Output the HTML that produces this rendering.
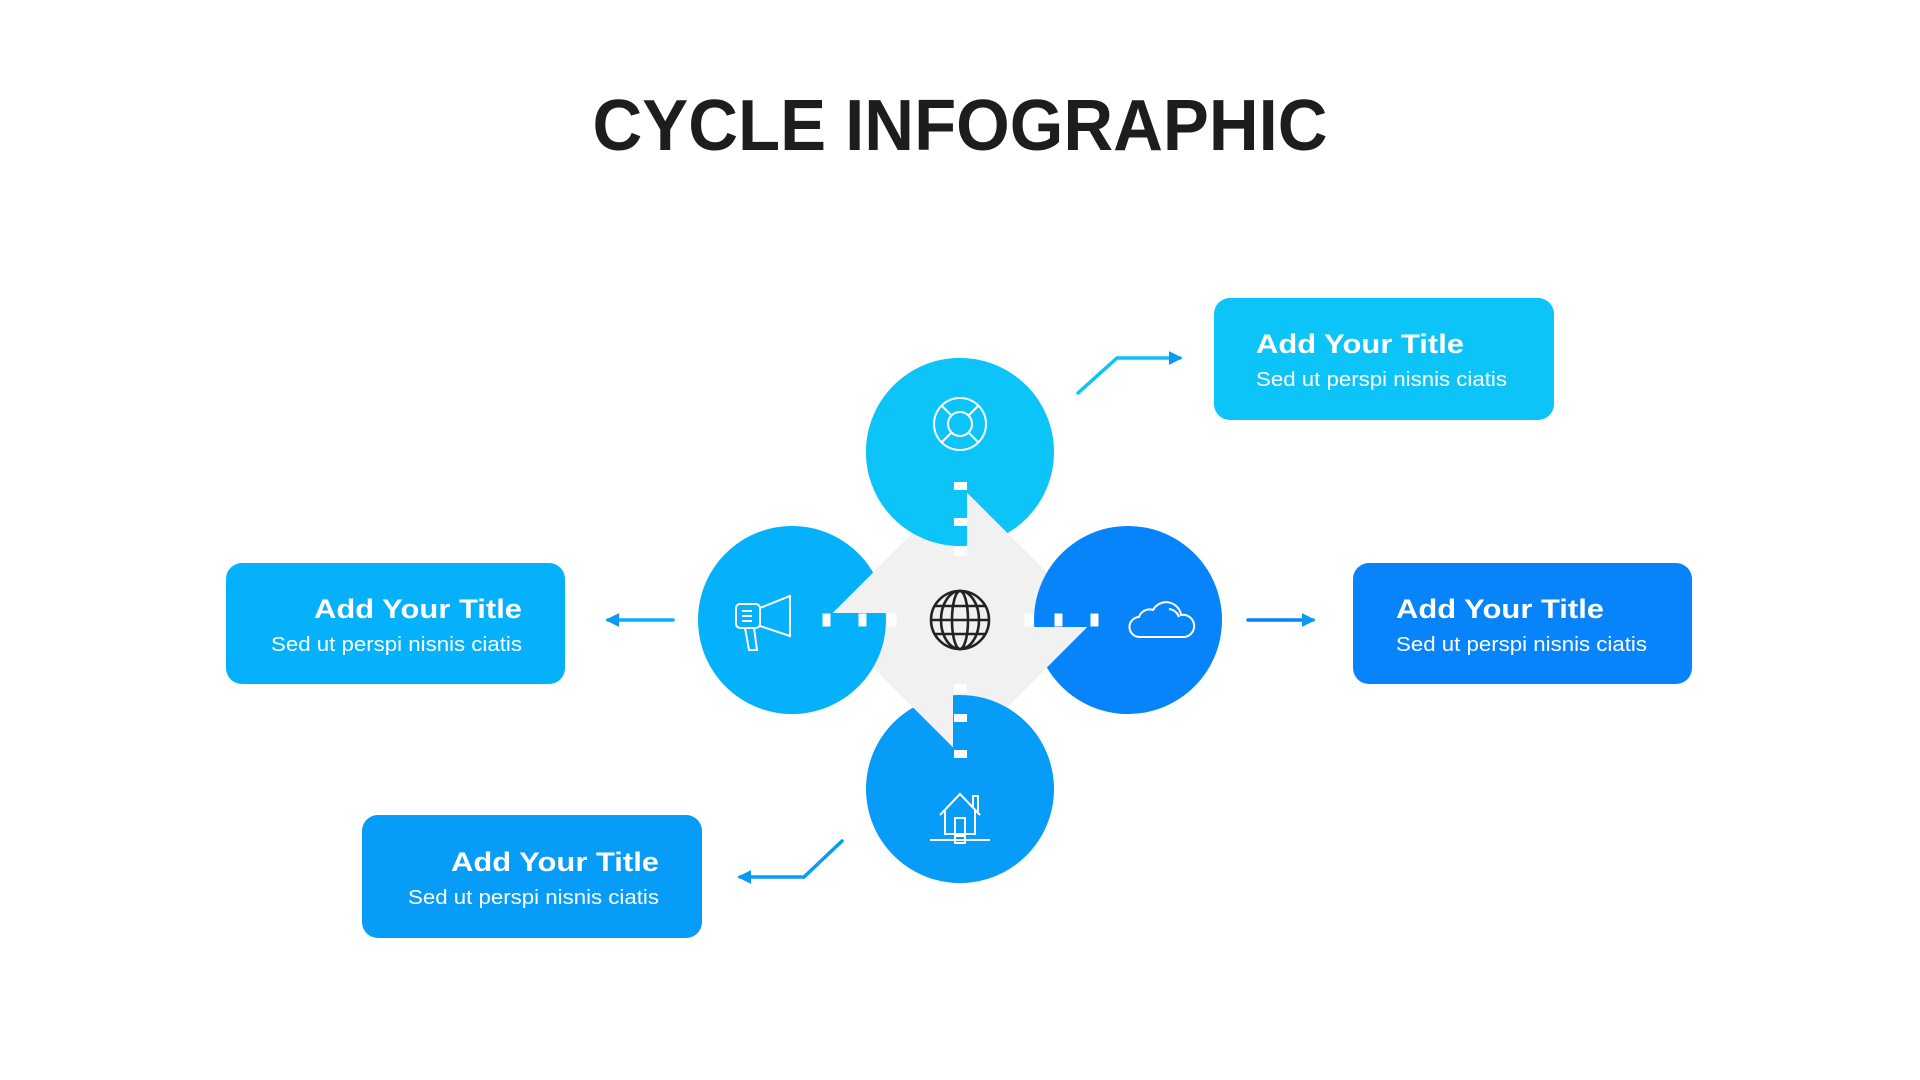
<!DOCTYPE html>
<html><head><meta charset="utf-8"><style>
html,body{margin:0;padding:0;background:#fff;}
svg{display:block;}
text{font-family:"Liberation Sans",Arial,sans-serif;}
</style></head><body>
<svg width="1920" height="1080" viewBox="0 0 1920 1080" xmlns="http://www.w3.org/2000/svg">
<defs>
<clipPath id="tr"><rect x="967" y="400" width="300" height="227"/></clipPath>
<clipPath id="br"><rect x="953" y="627" width="307" height="300"/></clipPath>
<clipPath id="bl"><rect x="700" y="613" width="253" height="307"/></clipPath>
<clipPath id="tl"><rect x="700" y="400" width="267" height="213"/></clipPath>
<clipPath id="tlc"><rect x="700" y="300" width="267" height="313"/></clipPath>
<rect id="dia" x="865" y="525" width="190" height="190" rx="12" fill="#f1f1f1" transform="rotate(45 960 620)"/>
<marker id="ah" viewBox="0 0 10 10" refX="8" refY="5" markerWidth="4" markerHeight="4" orient="auto"><path d="M0,0 L10,5 L0,10 z" fill="#0a9af5"/></marker>
</defs>

<text x="960" y="150" text-anchor="middle" font-size="72" font-weight="bold" fill="#1d1d1f" textLength="735" lengthAdjust="spacingAndGlyphs">CYCLE INFOGRAPHIC</text>

<use href="#dia"/>
<circle cx="960" cy="452" r="94" fill="#0cc4f7"/>
<use href="#dia" clip-path="url(#tr)"/>
<circle cx="1128" cy="620" r="94" fill="#0884fb"/>
<use href="#dia" clip-path="url(#br)"/>
<circle cx="960" cy="789" r="94" fill="#089cf9"/>
<use href="#dia" clip-path="url(#bl)"/>
<circle cx="792" cy="620" r="94" fill="#06b1fb"/>
<use href="#dia" clip-path="url(#tl)"/>
<circle cx="960" cy="452" r="94" fill="#0cc4f7" clip-path="url(#tlc)"/>

<!-- notches -->
<g fill="#fff">
<g><rect x="954" y="482" width="13" height="8"/><rect x="954" y="518" width="13" height="8"/><rect x="954" y="547" width="13" height="9"/></g>
<g transform="rotate(90 960.5 620)"><rect x="954" y="482" width="13" height="8"/><rect x="954" y="518" width="13" height="8"/><rect x="954" y="547" width="13" height="9"/></g>
<g transform="rotate(180 960.5 620)"><rect x="954" y="482" width="13" height="8"/><rect x="954" y="518" width="13" height="8"/><rect x="954" y="547" width="13" height="9"/></g>
<g transform="rotate(270 960.5 620)"><rect x="954" y="482" width="13" height="8"/><rect x="954" y="518" width="13" height="8"/><rect x="954" y="547" width="13" height="9"/></g>
</g>

<!-- globe -->
<g fill="none" stroke="#222" stroke-width="2.6">
<circle cx="960" cy="620" r="29"/>
<ellipse cx="960" cy="620" rx="8" ry="29"/>
<ellipse cx="960" cy="620" rx="19" ry="29"/>
<line x1="931" y1="620" x2="989" y2="620"/>
<line x1="935" y1="606" x2="985" y2="606"/>
<line x1="935" y1="634" x2="985" y2="634"/>
</g>

<!-- icons -->
<g fill="none" stroke="#fff" stroke-width="2">
<circle cx="960" cy="424" r="26"/><circle cx="960" cy="424" r="12"/>
<line x1="951" y1="415" x2="942" y2="406"/><line x1="969" y1="415" x2="978" y2="406"/>
<line x1="951" y1="433" x2="942" y2="442"/><line x1="969" y1="433" x2="978" y2="442"/>
<rect x="736" y="604" width="24" height="24" rx="4"/>
<path d="M760,608 L790,596 L790,636 L760,626"/>
<path d="M745,628 L749,650 L757,650 L754,628"/>
<line x1="742" y1="611" x2="752" y2="611"/><line x1="742" y1="616" x2="752" y2="616"/><line x1="742" y1="621" x2="752" y2="621"/>
<path d="M1140,637 a10,10 0 0 1 -1,-20 a11,11 0 0 1 14,-7 a15,15 0 0 1 28,5 a11,11 0 0 1 4,22 z"/>
<path d="M1169,609 a12,12 0 0 1 10,8"/>
<path d="M940,815 L960,794 L980,815"/><path d="M973,807 L973,796 L978,796 L978,812"/>
<path d="M945,810 L945,834 L975,834 L975,810"/>
<rect x="955" y="818" width="10" height="16"/>
<line x1="930" y1="840" x2="990" y2="840"/><rect x="955" y="836" width="10" height="7"/>
</g>

<!-- arrows -->
<g fill="none" stroke-width="3.5" stroke-linecap="round">
<polyline points="1078,393 1117,358 1180,358" stroke="#0cc4f7" marker-end="url(#ah)"/>
<polyline points="1248,620 1313,620" stroke="#0884fb" marker-end="url(#ah)"/>
<polyline points="673,620 608,620" stroke="#06b1fb" marker-end="url(#ah)"/>
<polyline points="842,841 804,877 740,877" stroke="#089cf9" marker-end="url(#ah)"/>
</g>

<!-- boxes -->
<rect x="1214" y="298" width="340" height="122" rx="16" fill="#0cc4f7"/>
<text x="1256" y="353" font-size="27" font-weight="bold" fill="#fff" textLength="208" lengthAdjust="spacingAndGlyphs">Add Your Title</text>
<text x="1256" y="386" font-size="20" fill="#fff" textLength="251" lengthAdjust="spacingAndGlyphs">Sed ut perspi nisnis ciatis</text>

<rect x="1353" y="563" width="339" height="121" rx="16" fill="#0884fb"/>
<text x="1396" y="618" font-size="27" font-weight="bold" fill="#fff" textLength="208" lengthAdjust="spacingAndGlyphs">Add Your Title</text>
<text x="1396" y="651" font-size="20" fill="#fff" textLength="251" lengthAdjust="spacingAndGlyphs">Sed ut perspi nisnis ciatis</text>

<rect x="226" y="563" width="339" height="121" rx="16" fill="#06b1fb"/>
<text x="522" y="618" font-size="27" font-weight="bold" fill="#fff" text-anchor="end" textLength="208" lengthAdjust="spacingAndGlyphs">Add Your Title</text>
<text x="522" y="651" font-size="20" fill="#fff" text-anchor="end" textLength="251" lengthAdjust="spacingAndGlyphs">Sed ut perspi nisnis ciatis</text>

<rect x="362" y="815" width="340" height="123" rx="16" fill="#089cf9"/>
<text x="659" y="871" font-size="27" font-weight="bold" fill="#fff" text-anchor="end" textLength="208" lengthAdjust="spacingAndGlyphs">Add Your Title</text>
<text x="659" y="904" font-size="20" fill="#fff" text-anchor="end" textLength="251" lengthAdjust="spacingAndGlyphs">Sed ut perspi nisnis ciatis</text>
</svg>
</body></html>
